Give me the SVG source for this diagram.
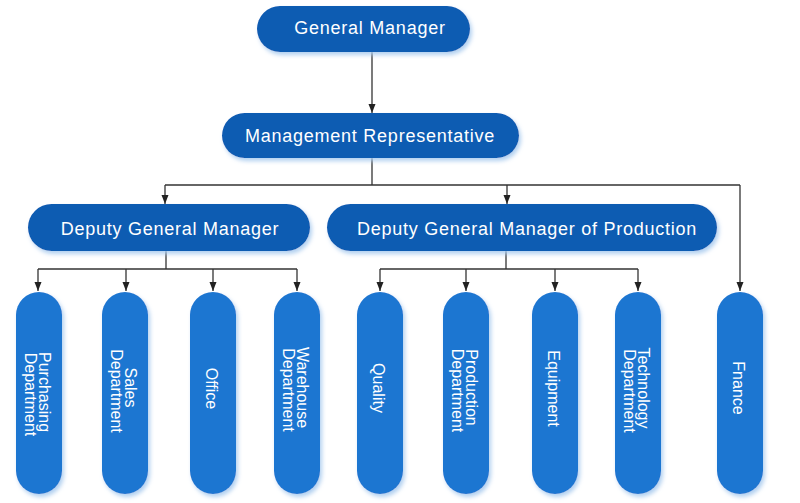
<svg xmlns="http://www.w3.org/2000/svg" width="800" height="503" viewBox="0 0 800 503">
  <defs>
    <filter id="sh" x="-20%" y="-20%" width="140%" height="140%">
      <feDropShadow dx="2" dy="3" stdDeviation="2" flood-color="#a9cbee" flood-opacity="0.9"/>
    </filter>
    <marker id="arr" viewBox="0 0 9 8" refX="9" refY="4" markerWidth="9" markerHeight="8" markerUnits="userSpaceOnUse" orient="auto">
      <path d="M0,0.5 L9,4 L0,7.5 z" fill="#222"/>
    </marker>
  </defs>
  <style>
    .top { fill: #0b5cb2; filter: url(#sh); }
    .leaf { fill: #1a76d1; filter: url(#sh); }
    .tt { fill: #fff; font-family: "Liberation Sans", Arial, sans-serif; font-size: 18px; letter-spacing: 0.75px; text-anchor: middle; }
    .lt { fill: #fff; font-family: "Liberation Sans", Arial, sans-serif; font-size: 16px; text-anchor: middle; }
    .c { fill: none; stroke: #333; stroke-width: 1.3; }
    .ca { fill: none; stroke: #333; stroke-width: 1.3; marker-end: url(#arr); }
  </style>
  <rect width="800" height="503" fill="#fff"/>

  <g id="connectors">
    <line class="ca" x1="372" y1="52" x2="372" y2="113"/>
    <polyline class="c" points="372,158 372,185"/>
    <polyline class="c" points="165,185 740,185"/>
    <line class="ca" x1="165" y1="185" x2="165" y2="204"/>
    <line class="ca" x1="507" y1="185" x2="507" y2="204"/>
    <line class="ca" x1="740" y1="185" x2="740" y2="291"/>
    <polyline class="c" points="166,251 166,269"/>
    <polyline class="c" points="38,269 297,269"/>
    <line class="ca" x1="38" y1="269" x2="38" y2="291"/>
    <line class="ca" x1="126" y1="269" x2="126" y2="291"/>
    <line class="ca" x1="213" y1="269" x2="213" y2="291"/>
    <line class="ca" x1="297" y1="269" x2="297" y2="291"/>
    <polyline class="c" points="506,251 506,269"/>
    <polyline class="c" points="380,269 638,269"/>
    <line class="ca" x1="380" y1="269" x2="380" y2="291"/>
    <line class="ca" x1="466" y1="269" x2="466" y2="291"/>
    <line class="ca" x1="555" y1="269" x2="555" y2="291"/>
    <line class="ca" x1="638" y1="269" x2="638" y2="291"/>
  </g>

  <g id="general-manager">
    <rect class="top" x="257" y="6" width="213" height="46" rx="23"/>
    <text class="tt" x="370" y="33.5">General Manager</text>
  </g>
  <g id="management-representative">
    <rect class="top" x="222" y="113" width="297" height="45" rx="22.5"/>
    <text class="tt" x="370" y="142">Management Representative</text>
  </g>
  <g id="deputy-general-manager">
    <rect class="top" x="28" y="204" width="282" height="47" rx="23.5"/>
    <text class="tt" x="170" y="235">Deputy General Manager</text>
  </g>
  <g id="deputy-general-manager-production">
    <rect class="top" x="327" y="204" width="390" height="47" rx="23.5"/>
    <text class="tt" x="527" y="235">Deputy General Manager of Production</text>
  </g>

  <g id="purchasing">
    <rect class="leaf" x="16" y="292" width="46" height="202" rx="23"/>
    <g transform="translate(39,392) rotate(90)">
      <text class="lt" x="0" y="0">Purchasing</text>
      <text class="lt" x="2.5" y="14.5">Department</text>
    </g>
  </g>
  <g id="sales">
    <rect class="leaf" x="102" y="292" width="46" height="202" rx="23"/>
    <g transform="translate(125,389) rotate(90)">
      <text class="lt" x="-1.5" y="0">Sales</text>
      <text class="lt" x="2" y="14.5">Department</text>
    </g>
  </g>
  <g id="office">
    <rect class="leaf" x="190" y="292" width="46" height="202" rx="23"/>
    <g transform="translate(213,388.5) rotate(90)">
      <text class="lt" x="0" y="7">Office</text>
    </g>
  </g>
  <g id="warehouse">
    <rect class="leaf" x="274" y="292" width="46" height="202" rx="23"/>
    <g transform="translate(297,389) rotate(90)">
      <text class="lt" x="-1.5" y="0.5">Warehouse</text>
      <text class="lt" x="1" y="14.5">Department</text>
    </g>
  </g>
  <g id="quality">
    <rect class="leaf" x="357" y="292" width="46" height="202" rx="23"/>
    <g transform="translate(380,388) rotate(90)">
      <text class="lt" x="0" y="7">Quality</text>
    </g>
  </g>
  <g id="production">
    <rect class="leaf" x="443" y="292" width="46" height="202" rx="23"/>
    <g transform="translate(466,389) rotate(90)">
      <text class="lt" x="-1.5" y="0.5">Production</text>
      <text class="lt" x="1.5" y="14.5">Department</text>
    </g>
  </g>
  <g id="equipment">
    <rect class="leaf" x="532" y="292" width="46" height="202" rx="23"/>
    <g transform="translate(555,388.5) rotate(90)">
      <text class="lt" x="0" y="7">Equipment</text>
    </g>
  </g>
  <g id="technology">
    <rect class="leaf" x="615" y="292" width="46" height="202" rx="23"/>
    <g transform="translate(638,389) rotate(90)">
      <text class="lt" x="-1" y="0.5">Technology</text>
      <text class="lt" x="2" y="14.5">Department</text>
    </g>
  </g>
  <g id="finance">
    <rect class="leaf" x="717" y="292" width="46" height="202" rx="23"/>
    <g transform="translate(740,388) rotate(90)">
      <text class="lt" x="0" y="7">Fnance</text>
    </g>
  </g>
</svg>
